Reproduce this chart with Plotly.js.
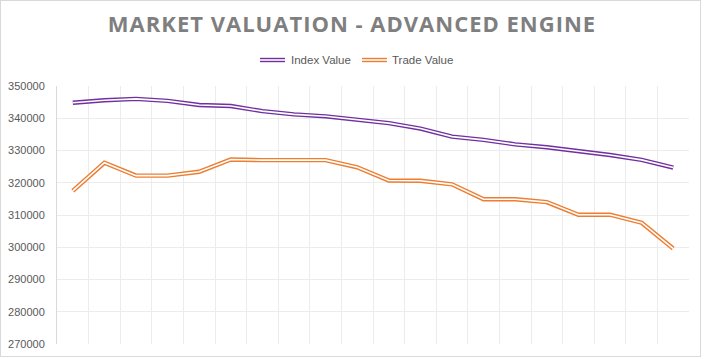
<!DOCTYPE html>
<html>
<head>
<meta charset="utf-8">
<script src="https://cdn.plot.ly/plotly-3.0.1.min.js"></script>
<style>
  body { margin: 0; background: #ffffff; }
  #wrap { position: relative; width: 704px; height: 359px; }
  #chart { position: absolute; left: 0; top: 0; width: 704px; height: 359px; }
  #frame { position: absolute; left: 0; top: 0; width: 699px; height: 355px; border: 1px solid #d9d9d9; pointer-events: none; }
  .gtitle { letter-spacing: 1px; }
</style>
</head>
<body>
<div id="wrap">
  <div id="chart"></div>
  <div id="frame"></div>
</div>
<script>
// ---- data ----
const periods = [1, 2, 3, 4, 5, 6, 7, 8, 9, 10, 11, 12, 13, 14, 15, 16, 17, 18, 19, 20];
const indexValue = [344800, 345600, 346000, 345400, 344100, 343800, 342200, 341200, 340600, 339600,
                    338500, 336800, 334300, 333300, 331900, 331000, 329900, 328600, 327100, 324700];
const tradeValue = [317500, 326200, 322200, 322200, 323400, 327200, 327000, 327000, 327000, 324800,
                    320700, 320600, 319500, 314900, 314900, 314000, 310100, 310100, 307600, 299600];
const seriesNames = ['Index Value', 'Trade Value'];
const chartTitle = 'MARKET VALUATION - ADVANCED ENGINE';
const yTicks = [270000, 280000, 290000, 300000, 310000, 320000, 330000, 340000, 350000];

// ---- style ----
const PURPLE = '#7030a0';
const ORANGE = '#ed7d31';
const OUTER_W = 4.4;
const INNER_W = 1.6;

function doubleLine(y, color, name) {
  return [
    { x: periods, y: y, type: 'scatter', mode: 'lines', name: name,
      line: { color: color, width: OUTER_W }, showlegend: false, hoverinfo: 'x+y' },
    { x: periods, y: y, type: 'scatter', mode: 'lines', name: name + ' (inner)',
      line: { color: '#ffffff', width: INNER_W }, showlegend: false, hoverinfo: 'skip' }
  ];
}

const data = [].concat(doubleLine(indexValue, PURPLE, seriesNames[0]),
                       doubleLine(tradeValue, ORANGE, seriesNames[1]));

// manual legend (double-line symbols)
const L = 57, R = 15, T = 86, B = 15, W = 704, H = 359;
const pw = W - L - R, ph = H - T - B;
const px = v => (v - L) / pw;
const py = v => (H - B - v) / ph;
const legY = 60;
const legendItems = [
  { name: seriesNames[0], color: PURPLE, x0: 260, x1: 285, tx: 289 },
  { name: seriesNames[1], color: ORANGE, x0: 362, x1: 387, tx: 390 }
];
const shapes = [];
const annotations = [];
legendItems.forEach(it => {
  shapes.push({ type: 'line', xref: 'paper', yref: 'paper', x0: px(it.x0), x1: px(it.x1), y0: py(legY), y1: py(legY),
                line: { color: it.color, width: OUTER_W } });
  shapes.push({ type: 'line', xref: 'paper', yref: 'paper', x0: px(it.x0), x1: px(it.x1), y0: py(legY), y1: py(legY),
                line: { color: '#ffffff', width: INNER_W } });
  annotations.push({ text: it.name, xref: 'paper', yref: 'paper', x: px(it.tx), y: py(legY),
                     xanchor: 'left', yanchor: 'middle', showarrow: false,
                     font: { family: 'Liberation Sans, Arial, sans-serif', size: 11.5, color: '#595959' } });
});

const layout = {
  width: W, height: H,
  margin: { l: L, r: R, t: T, b: B, pad: 0 },
  paper_bgcolor: 'rgba(0,0,0,0)',
  plot_bgcolor: '#ffffff',
  showlegend: false,
  title: {
    text: chartTitle,
    x: 0.5, xref: 'container', xanchor: 'center',
    y: (H - 24) / H, yref: 'container', yanchor: 'middle',
    font: { family: 'Open Sans, sans-serif', size: 22, weight: 700, color: '#7f7f7f' }
  },
  xaxis: {
    range: [periods[0] - 0.5, periods[periods.length - 1] + 0.5],
    tick0: 0.5, dtick: 1,
    showgrid: true, gridcolor: '#ececec', gridwidth: 1,
    showticklabels: false, ticks: '',
    zeroline: false, showline: false, fixedrange: true
  },
  yaxis: {
    range: [yTicks[0], yTicks[yTicks.length - 1]],
    tickvals: yTicks, ticktext: yTicks.map(String),
    showgrid: true, gridcolor: '#ececec', gridwidth: 1,
    ticks: '', ticklabelstandoff: 9,
    tickfont: { family: 'Liberation Sans, Arial, sans-serif', size: 11, color: '#595959' },
    zeroline: false, showline: true, linecolor: '#d9d9d9', linewidth: 1, fixedrange: true
  },
  shapes: shapes,
  annotations: annotations
};

Plotly.newPlot('chart', data, layout, { displayModeBar: false, staticPlot: true });
</script>
</body>
</html>
